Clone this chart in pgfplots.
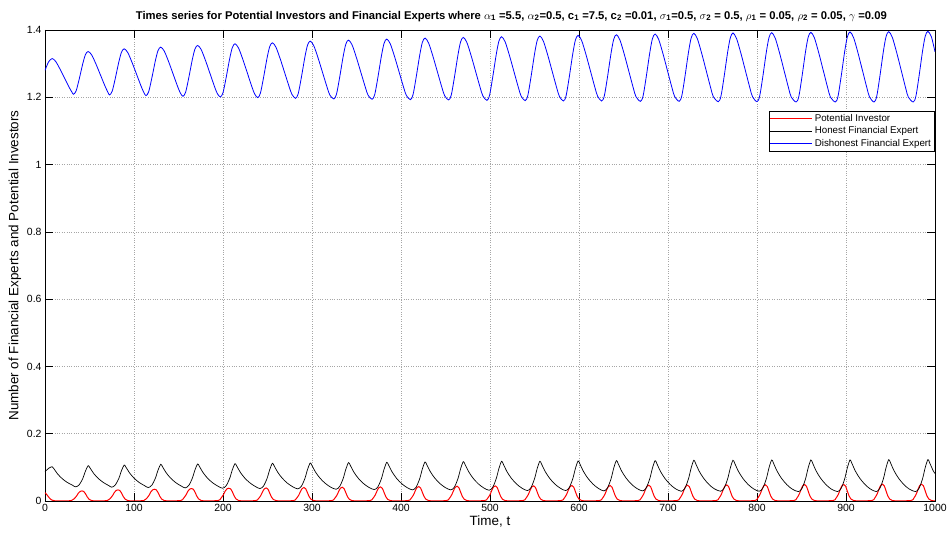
\documentclass[border=0pt]{standalone}
\usepackage{pgfplots}
\pgfplotsset{compat=1.18}
\usepackage{fontspec}
\setmainfont{Liberation Sans}
\begin{document}
\begin{tikzpicture}
\useasboundingbox (-45bp,-43bp) rectangle (903bp,501bp);
\begin{axis}[
  scale only axis, width=890bp, height=471bp,
  xmin=0, xmax=1000, ymin=0, ymax=1.4,
  xtick={0,100,...,1000}, ytick={0,0.2,0.4,0.6,0.8,1,1.2,1.4},
  yticklabels={0,0.2,0.4,0.6,0.8,1,1.2,1.4},
  scaled ticks=false,
  /pgf/number format/1000 sep={},
  /pgf/number format/assume math mode=true,
  tick label style={font=\fontsize{10.5}{12}\selectfont},
  tick align=inside, major tick length=8bp,
  every tick/.style={black, line width=0.5pt},
  grid=major, grid style={dotted, gray!70, line width=0.6pt},
  axis line style={line width=0.7pt},
  xlabel={Time, t}, ylabel={Number of Financial Experts and Potential Investors},
  label style={font=\fontsize{13.5}{15}\selectfont},
  xlabel style={yshift=3bp},
  ylabel style={yshift=-1bp},
  title={\textbf{Times series for Potential Investors and Financial Experts where \(\alpha\)\textsubscript{1} =5.5, \(\alpha\)\textsubscript{2}=0.5, c\textsubscript{1} =7.5, c\textsubscript{2} =0.01, \(\sigma\)\textsubscript{1}=0.5, \(\sigma\)\textsubscript{2} = 0.5, \(\rho\)\textsubscript{1} = 0.05, \(\rho\)\textsubscript{2} = 0.05, \(\gamma\) =0.09}},
  title style={font=\fontsize{11.3}{13}\selectfont, at={(0.524,1)}, yshift=-1bp},
  legend style={at={(rel axis cs:0.999,0.828)}, anchor=north east, font=\fontsize{9.8}{11}\selectfont, inner sep=1pt, cells={anchor=west, inner ysep=1pt}},
  legend image code/.code={\path (0bp,0bp) -- (42bp,0bp); \draw[#1] (14bp,0bp) -- (42bp,0bp);},
]
\addlegendimage{draw=red, color=red, line width=1pt}
\addlegendentry{Potential Investor}
\addlegendimage{draw=black, color=black, line width=1pt}
\addlegendentry{Honest Financial Expert}
\addlegendimage{draw=blue, color=blue, line width=1pt}
\addlegendentry{Dishonest Financial Expert}
\addplot[red, line width=1pt, smooth, forget plot] coordinates {
(0,0.025)(2,0.019)(4,0.012)(6,0.006)(8,0.0025)(11,0.0006)(15,0)
(29.5,0.0012)(32.5,0.006)(35.5,0.015)(37.5,0.0234)(39.5,0.0285)(41.5,0.030)(43.5,0.0285)(45.5,0.0216)(47.5,0.012)(49.5,0.0051)(52.5,0.0012)(56.5,0.0001)
(70,0.0013)(73,0.0066)(76,0.0165)(78,0.0257)(80,0.0314)(82,0.033)(84,0.0314)(86,0.0238)(88,0.0132)(90,0.0056)(93,0.0013)(97,0.0001)
(111,0.0014)(114,0.007)(117,0.0175)(119,0.0273)(121,0.0333)(123,0.035)(125,0.0333)(127,0.0252)(129,0.014)(131,0.006)(134,0.0014)(138,0.0001)
(152.5,0.0015)(155.5,0.0074)(158.5,0.0185)(160.5,0.0289)(162.5,0.0352)(164.5,0.037)(166.5,0.0352)(168.5,0.0266)(170.5,0.0148)(172.5,0.0063)(175.5,0.0015)(179.5,0.0001)
(194.5,0.0015)(197.5,0.0076)(200.5,0.019)(202.5,0.0296)(204.5,0.0361)(206.5,0.038)(208.5,0.0361)(210.5,0.0274)(212.5,0.0152)(214.5,0.0065)(217.5,0.0015)(221.5,0.0002)
(236.5,0.0012)(239.5,0.0059)(242.5,0.0164)(244.5,0.0273)(246.5,0.0363)(248.5,0.039)(250.5,0.0351)(252.5,0.0234)(254.5,0.0117)(256.5,0.0047)(259.5,0.0012)(263.5,0.0001)
(279,0.0012)(282,0.006)(285,0.0168)(287,0.028)(289,0.0372)(291,0.040)(293,0.036)(295,0.024)(297,0.012)(299,0.0048)(302,0.0012)(306,0.0001)
(322,0.0012)(325,0.0062)(328,0.0172)(330,0.0287)(332,0.0381)(334,0.041)(336,0.0369)(338,0.0246)(340,0.0123)(342,0.0049)(345,0.0012)(349,0.0001)
(365,0.0013)(368,0.0063)(371,0.0176)(373,0.0294)(375,0.0391)(377,0.042)(379,0.0378)(381,0.0252)(383,0.0126)(385,0.005)(388,0.0013)(392,0.0001)
(408,0.0013)(411,0.0065)(414,0.0181)(416,0.0301)(418,0.04)(420,0.043)(422,0.0387)(424,0.0258)(426,0.0129)(428,0.0052)(431,0.0013)(435,0.0001)
(451,0.0013)(454,0.0066)(457,0.0185)(459,0.0308)(461,0.0409)(463,0.044)(465,0.0396)(467,0.0264)(469,0.0132)(471,0.0053)(474,0.0013)(478,0.0001)
(494,0.0014)(497,0.0068)(500,0.0189)(502,0.0315)(504,0.0419)(506,0.045)(508,0.0405)(510,0.027)(512,0.0135)(514,0.0054)(517,0.0014)(521,0.0001)
(537,0.0014)(540,0.0068)(543,0.0189)(545,0.0315)(547,0.0419)(549,0.045)(551,0.0405)(553,0.027)(555,0.0135)(557,0.0054)(560,0.0014)(564,0.0001)
(580,0.0014)(583,0.0069)(586,0.0193)(588,0.0322)(590,0.0428)(592,0.046)(594,0.0414)(596,0.0276)(598,0.0138)(600,0.0055)(603,0.0014)(607,0.0001)
(623,0.0014)(626,0.0069)(629,0.0193)(631,0.0322)(633,0.0428)(635,0.046)(637,0.0414)(639,0.0276)(641,0.0138)(643,0.0055)(646,0.0014)(650,0.0001)
(666.5,0.0014)(669.5,0.0071)(672.5,0.0197)(674.5,0.0329)(676.5,0.0437)(678.5,0.047)(680.5,0.0423)(682.5,0.0282)(684.5,0.0141)(686.5,0.0056)(689.5,0.0014)(693.5,0.0001)
(710,0.0014)(713,0.0071)(716,0.0197)(718,0.0329)(720,0.0437)(722,0.047)(724,0.0423)(726,0.0282)(728,0.0141)(730,0.0056)(733,0.0014)(737,0.0001)
(754,0.0014)(757,0.0072)(760,0.0202)(762,0.0336)(764,0.0446)(766,0.048)(768,0.0432)(770,0.0288)(772,0.0144)(774,0.0058)(777,0.0014)(781,0.0001)
(797.5,0.0014)(800.5,0.0072)(803.5,0.0202)(805.5,0.0336)(807.5,0.0446)(809.5,0.048)(811.5,0.0432)(813.5,0.0288)(815.5,0.0144)(817.5,0.0058)(820.5,0.0014)(824.5,0.0001)
(841.5,0.0015)(844.5,0.0074)(847.5,0.0206)(849.5,0.0343)(851.5,0.0456)(853.5,0.049)(855.5,0.0441)(857.5,0.0294)(859.5,0.0147)(861.5,0.0059)(864.5,0.0015)(868.5,0.0001)
(885.5,0.0015)(888.5,0.0074)(891.5,0.0206)(893.5,0.0343)(895.5,0.0456)(897.5,0.049)(899.5,0.0441)(901.5,0.0294)(903.5,0.0147)(905.5,0.0059)(908.5,0.0015)(912.5,0.0001)
(929,0.0015)(932,0.0075)(935,0.021)(937,0.035)(939,0.0465)(941,0.050)(943,0.045)(945,0.030)(947,0.015)(949,0.006)(952,0.0015)(956,0.0002)
(973,0.0015)(976,0.0075)(979,0.021)(981,0.035)(983,0.0465)(985,0.050)(987,0.045)(989,0.030)(991,0.015)(993,0.006)(996,0.0015)(1000,0.0002)
};
\addplot[black, line width=0.7pt, smooth, forget plot] coordinates {
(0,0.087)(4,0.097)(8,0.102)(10,0.096)(14,0.081)(19,0.0672)(25,0.0552)(31,0.0468)(34.5,0.042)(38.5,0.0483)(42.5,0.0672)(45.5,0.0893)
(48.5,0.105)(50.5,0.0986)(54.5,0.0826)(59.5,0.0679)(65.5,0.0551)(71.5,0.0461)(75,0.041)(79,0.0476)(83,0.0674)(86,0.0905)
(89,0.107)(91,0.1003)(95,0.0836)(100,0.0681)(106,0.0547)(112,0.0454)(116,0.040)(120,0.0469)(124,0.0676)(127,0.0918)
(130,0.109)(132,0.102)(136,0.0845)(141,0.0684)(147,0.0544)(153,0.0446)(157.5,0.039)(161.5,0.0461)(165.5,0.0674)(168.5,0.0923)
(171.5,0.110)(173.5,0.1028)(177.5,0.0848)(182.5,0.0682)(188.5,0.0538)(194.5,0.0438)(199.5,0.038)(203.5,0.0453)(207.5,0.0672)(210.5,0.0928)
(213.5,0.111)(215.5,0.1036)(219.5,0.0851)(224.5,0.0681)(230.5,0.0533)(236.5,0.0429)(241.5,0.037)(245.5,0.0445)(249.5,0.067)(252.5,0.0933)
(255.5,0.112)(257.5,0.1044)(261.5,0.0854)(266.5,0.0679)(272.5,0.0527)(278.5,0.0421)(284,0.036)(288,0.0437)(292,0.0668)(295,0.0938)
(298,0.113)(300,0.1052)(304,0.0857)(309,0.0678)(315,0.0522)(321,0.0412)(327,0.035)(331,0.0429)(335,0.0666)(338,0.0943)
(341,0.114)(343,0.106)(347,0.086)(352,0.0676)(358,0.0516)(364,0.0404)(370,0.034)(374,0.0421)(378,0.0664)(381,0.0948)
(384,0.115)(386,0.1068)(390,0.0863)(395,0.0674)(401,0.051)(407,0.0396)(413,0.033)(417,0.0413)(421,0.0662)(424,0.0953)
(427,0.116)(429,0.1077)(433,0.087)(438,0.0679)(444,0.0513)(450,0.0396)(456,0.033)(460,0.0414)(464,0.0666)(467,0.096)
(470,0.117)(472,0.1085)(476,0.0873)(481,0.0677)(487,0.0507)(493,0.0388)(499,0.032)(503,0.0406)(507,0.0664)(510,0.0965)
(513,0.118)(515,0.1093)(519,0.0876)(524,0.0675)(530,0.0501)(536,0.038)(542,0.031)(546,0.0397)(550,0.0658)(553,0.0963)
(556,0.118)(558,0.1093)(562,0.0876)(567,0.0675)(573,0.0501)(579,0.038)(585,0.031)(589,0.0398)(593,0.0662)(596,0.097)
(599,0.119)(601,0.1101)(605,0.0879)(610,0.0674)(616,0.0496)(622,0.0371)(628,0.030)(632,0.039)(636,0.066)(639,0.0975)
(642,0.120)(644,0.111)(648,0.0885)(653,0.0678)(659,0.0498)(665,0.0372)(671.5,0.030)(675.5,0.039)(679.5,0.066)(682.5,0.0975)
(685.5,0.120)(687.5,0.1109)(691.5,0.0882)(696.5,0.0672)(702.5,0.049)(708.5,0.0363)(715,0.029)(719,0.0382)(723,0.0658)(726,0.098)
(729,0.121)(731,0.1118)(735,0.0888)(740,0.0676)(746,0.0492)(752,0.0364)(759,0.029)(763,0.0382)(767,0.0658)(770,0.098)
(773,0.121)(775,0.1118)(779,0.0888)(784,0.0676)(790,0.0492)(796,0.0364)(802.5,0.029)(806.5,0.0383)(810.5,0.0662)(813.5,0.0988)
(816.5,0.122)(818.5,0.1126)(822.5,0.0891)(827.5,0.0675)(833.5,0.0487)(839.5,0.0355)(846.5,0.028)(850.5,0.0374)(854.5,0.0656)(857.5,0.0985)
(860.5,0.122)(862.5,0.1126)(866.5,0.0891)(871.5,0.0675)(877.5,0.0487)(883.5,0.0355)(890.5,0.028)(894.5,0.0374)(898.5,0.0656)(901.5,0.0985)
(904.5,0.122)(906.5,0.1126)(910.5,0.0891)(915.5,0.0675)(921.5,0.0487)(927.5,0.0355)(934,0.028)(938,0.0375)(942,0.066)(945,0.0993)
(948,0.123)(950,0.1135)(954,0.0898)(959,0.0679)(965,0.0489)(971,0.0356)(978,0.028)(982,0.0375)(986,0.066)(989,0.0993)
(992,0.123)(994,0.1135)(998,0.0898)(1000,0.082)
};
\addplot[blue, line width=0.8pt, smooth, forget plot] coordinates {
(0,1.280)(4,1.305)(8,1.315)(12,1.3065)(17,1.2832)(22,1.2567)(27,1.2302)(30,1.2164)(32,1.209)(35,1.2192)(38.5,1.2547)(42.5,1.3004)(45.5,1.3271)
(48.5,1.336)(52.5,1.3257)(57.5,1.2973)(62.5,1.2651)(67.5,1.2328)(70.5,1.2160)(72.5,1.207)(75.5,1.218)(79,1.2563)(83,1.3056)(86,1.3344)
(89,1.344)(93,1.3329)(98,1.3023)(103,1.2676)(108,1.2328)(111,1.2147)(113.5,1.205)(116.5,1.2165)(120,1.2568)(124,1.3087)(127,1.3389)
(130,1.349)(134,1.3373)(139,1.3052)(144,1.2687)(149,1.2322)(152,1.2132)(155,1.203)(158,1.2151)(161.5,1.2574)(165.5,1.3117)(168.5,1.3434)
(171.5,1.354)(175.5,1.3418)(180.5,1.3081)(185.5,1.2699)(190.5,1.2316)(193.5,1.2117)(197,1.201)(200,1.2136)(203.5,1.2579)(207.5,1.3148)(210.5,1.3479)
(213.5,1.359)(217.5,1.3462)(222.5,1.311)(227.5,1.271)(232.5,1.231)(235.5,1.2102)(239,1.199)(242,1.212)(245.5,1.2577)(249.5,1.3164)(252.5,1.3506)
(255.5,1.362)(259.5,1.3488)(264.5,1.3125)(269.5,1.2713)(274.5,1.230)(277.5,1.2086)(281.5,1.197)(284.5,1.2106)(288,1.2582)(292,1.3194)(295,1.3551)
(298,1.367)(302,1.3532)(307,1.3154)(312,1.2724)(317,1.2294)(320,1.207)(324.5,1.195)(327.5,1.209)(331,1.258)(335,1.321)(338,1.3578)
(341,1.370)(345,1.3559)(350,1.3172)(355,1.2732)(360,1.2292)(363,1.2063)(367.5,1.194)(370.5,1.2083)(374,1.2584)(378,1.3229)(381,1.3605)
(384,1.373)(388,1.3586)(393,1.319)(398,1.274)(403,1.229)(406,1.2056)(410.5,1.193)(413.5,1.2076)(417,1.2589)(421,1.3248)(424,1.3632)
(427,1.376)(431,1.3613)(436,1.3208)(441,1.2748)(446,1.2288)(449,1.2049)(453.5,1.192)(456.5,1.2069)(460,1.259)(464,1.3259)(467,1.365)
(470,1.378)(474,1.363)(479,1.3219)(484,1.2752)(489,1.2284)(492,1.2041)(496.5,1.191)(499.5,1.2061)(503,1.259)(507,1.3271)(510,1.3668)
(513,1.380)(517,1.3648)(522,1.323)(527,1.2755)(532,1.228)(535,1.2033)(539.5,1.190)(542.5,1.2054)(546,1.2591)(550,1.3282)(553,1.3686)
(556,1.382)(560,1.3666)(565,1.3241)(570,1.2759)(575,1.2276)(578,1.2025)(582.5,1.189)(585.5,1.2046)(589,1.2592)(593,1.3294)(596,1.3704)
(599,1.384)(603,1.3684)(608,1.3255)(613,1.2768)(618,1.228)(621,1.2027)(625.5,1.189)(628.5,1.2048)(632,1.2599)(636,1.3308)(639,1.3722)
(642,1.386)(646,1.3702)(651,1.3266)(656,1.2771)(661,1.2276)(664,1.2019)(669,1.188)(672,1.204)(675.5,1.260)(679.5,1.332)(682.5,1.374)
(685.5,1.388)(689.5,1.372)(694.5,1.328)(699.5,1.278)(704.5,1.228)(707.5,1.202)(712.5,1.188)(715.5,1.2042)(719,1.2607)(723,1.3334)(726,1.3759)
(729,1.390)(733,1.3738)(738,1.3291)(743,1.2784)(748,1.2276)(751,1.2012)(756.5,1.187)(759.5,1.2033)(763,1.2604)(767,1.3339)(770,1.3767)
(773,1.391)(777,1.3747)(782,1.3298)(787,1.2788)(792,1.2278)(795,1.2013)(800,1.187)(803,1.2034)(806.5,1.2608)(810.5,1.3346)(813.5,1.3777)
(816.5,1.392)(820.5,1.3755)(825.5,1.3302)(830.5,1.2787)(835.5,1.2272)(838.5,1.2004)(844,1.186)(847,1.2026)(850.5,1.2605)(854.5,1.335)(857.5,1.3785)
(860.5,1.393)(864.5,1.3764)(869.5,1.3309)(874.5,1.2792)(879.5,1.2274)(882.5,1.2005)(888,1.186)(891,1.2026)(894.5,1.2609)(898.5,1.3358)(901.5,1.3794)
(904.5,1.394)(908.5,1.3774)(913.5,1.3316)(918.5,1.2796)(923.5,1.2276)(926.5,1.2006)(931.5,1.186)(934.5,1.2027)(938,1.2612)(942,1.3365)(945,1.3804)
(948,1.395)(952,1.3783)(957,1.3323)(962,1.2801)(967,1.2278)(970,1.2006)(975.5,1.186)(978.5,1.2028)(982,1.2616)(986,1.3372)(989,1.3813)
(992,1.396)(996,1.3792)(1000,1.335)
};
\end{axis}
\end{tikzpicture}
\end{document}
